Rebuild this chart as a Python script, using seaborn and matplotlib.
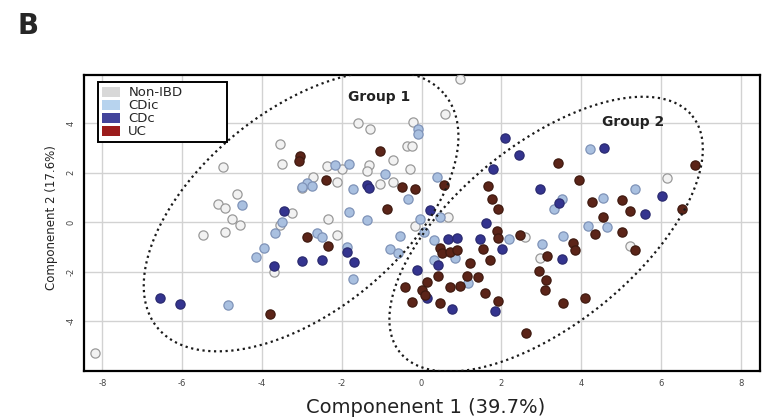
import numpy as np
import pandas as pd
import matplotlib
matplotlib.use("Agg")
import matplotlib.pyplot as plt
from matplotlib.patches import Patch
import seaborn as sns

# ---------------- data ----------------
groups = ["Non-IBD", "CDic", "CDc", "UC"]

nonibd_x = [-3.55, -4.97, -3.50, -1.60, -1.29, -0.71, -2.38, -2.00, -1.33, -1.37,
            -2.71, -3.00, -2.13, -1.04, -0.71, -4.63, -5.09, -4.92, -4.76, -4.55,
            -5.47, -4.92, -3.25, -2.34, -2.13, -3.71, -3.55, -8.18, 0.96, 0.59,
            -0.21, -0.37, -0.25, -0.29, 0.67, -0.16, 6.15, 5.23, 2.97, 2.59]
nonibd_y = [3.15, 2.23, 2.33, 3.99, 3.75, 2.51, 2.26, 2.13, 2.30, 2.06,
            1.81, 1.36, 1.63, 1.54, 1.63, 1.12, 0.72, 0.55, 0.11, -0.12,
            -0.51, -0.42, 0.38, 0.11, -0.51, -2.01, -0.12, -5.28, 5.78, 4.36,
            4.05, 3.07, 3.07, 2.14, 0.21, -0.16, 1.77, -0.97, -1.47, -0.59]

cdic_x = [-2.17, -1.83, -2.86, -2.75, -4.51, -1.71, -0.91, -1.83, -1.37, -3.50,
          -3.67, -2.63, -2.50, -4.15, -3.96, -4.84, -1.71, -1.87, -0.79, -0.58,
          -3.00, -0.08, -0.08, 0.38, -0.33, 0.46, -0.04, 0.05, -0.54, 0.30,
          0.30, 0.84, 1.17, 2.18, 3.01, 3.55, 4.22, 5.35, 4.54, 3.51,
          3.32, 4.18, 4.64]
cdic_y = [2.30, 2.33, 1.56, 1.45, 0.70, 1.33, 1.94, 0.42, 0.08, -0.01,
          -0.46, -0.46, -0.59, -1.43, -1.06, -3.35, -2.32, -1.00, -1.10, -1.24,
          1.40, 3.75, 3.54, 1.83, 0.92, 0.21, 0.11, -0.39, -0.55, -0.73,
          -1.54, -1.47, -2.48, -0.70, -0.89, -0.57, 2.95, 1.33, 0.98, 0.93,
          0.53, -0.15, -0.19]

cdc_x = [-1.37, -1.31, -3.46, -3.71, -3.00, -2.50, -1.69, -1.87, -6.55, -6.05,
         0.21, 0.67, 0.88, 0.40, -0.12, 0.13, 0.76, 1.62, 1.47, 2.01,
         1.84, 2.09, 2.43, 1.80, 2.97, 3.45, 3.51, 4.57, 6.02, 5.60]
cdc_y = [1.49, 1.36, 0.44, -1.77, -1.56, -1.54, -1.63, -1.20, -3.06, -3.33,
         0.48, -0.70, -0.66, -1.74, -1.94, -3.08, -3.52, -0.05, -0.69, -1.09,
         -3.58, 3.38, 2.71, 2.13, 1.33, 0.78, -1.49, 2.98, 1.05, 0.32]

uc_x = [-3.05, -3.06, -1.04, -2.39, -0.87, -2.88, -2.34, -3.80, -0.50, -0.16,
        0.55, 1.67, 1.76, 1.92, 3.43, 3.95, 6.85, 4.27, 5.02, 5.23,
        6.52, 4.54, 5.02, 4.35, 1.88, 1.92, 2.47, 3.80, 3.85, 5.35,
        0.46, 0.51, 0.71, 0.88, 1.55, 3.14, 1.22, 1.72, 2.95, 3.12,
        3.10, 0.42, 0.13, 1.13, 1.42, 0.71, 0.95, -0.41, 0.01, 0.09,
        1.59, 0.46, -0.25, 1.92, 3.55, 4.10, 2.62]
uc_y = [2.67, 2.48, 2.88, 1.70, 0.53, -0.59, -0.97, -3.72, 1.40, 1.33,
        1.49, 1.45, 0.92, 0.51, 2.37, 1.70, 2.30, 0.82, 0.89, 0.46,
        0.51, 0.21, -0.39, -0.50, -0.35, -0.66, -0.53, -0.86, -1.13, -1.13,
        -1.06, -1.24, -1.20, -1.13, -1.09, -1.36, -1.64, -1.54, -1.97, -2.34,
        -2.75, -2.18, -2.41, -2.18, -2.23, -2.64, -2.59, -2.61, -2.75, -2.95,
        -2.86, -3.26, -3.22, -3.18, -3.28, -3.08, -4.47]

x_ticks = [-8, -6, -4, -2, 0, 2, 4, 6, 8]
y_ticks = [-4, -2, 0, 2, 4]

# group ellipses: centre and two conjugate semi-axis vectors (data units)
ell1_center, ell1_a, ell1_b = (-3.02, 0.44), (3.61, 4.69), (1.586, -3.18)
ell2_center, ell2_a, ell2_b = (3.12, -0.49), (3.662, 4.78), (1.419, -2.825)

# ---------------- styling ----------------
fill_colors = {"Non-IBD": "#f2f2f2", "CDic": "#a9c0e0", "CDc": "#34348f", "UC": "#5b2418"}
edge_colors = {"Non-IBD": "#9a9a9a", "CDic": "#7f93b8", "CDc": "#2a2a70", "UC": "#3f1a10"}
legend_colors = {"Non-IBD": "#d8d8d8", "CDic": "#b7d3ee", "CDc": "#43449b", "UC": "#9b1c1c"}

sns.set_theme(style="white")
plt.rcParams["font.family"] = ["DejaVu Sans"]

fig = plt.figure(figsize=(7.69, 4.18), dpi=100)
ax = fig.add_axes([84 / 769, 1 - 371 / 418, 676 / 769, 296 / 418])

frames = []
for g, xs, ys in zip(groups, [nonibd_x, cdic_x, cdc_x, uc_x], [nonibd_y, cdic_y, cdc_y, uc_y]):
    frames.append(pd.DataFrame({"x": xs, "y": ys, "group": g}))
df = pd.concat(frames, ignore_index=True)

for g in groups:
    sub = df[df["group"] == g]
    sns.scatterplot(data=sub, x="x", y="y", color=fill_colors[g], edgecolor=edge_colors[g],
                    linewidth=0.9, s=44, ax=ax, legend=False, zorder=3)

t = np.linspace(0, 2 * np.pi, 400)
for c, a, b in [(ell1_center, ell1_a, ell1_b), (ell2_center, ell2_a, ell2_b)]:
    ex = c[0] + a[0] * np.cos(t) + b[0] * np.sin(t)
    ey = c[1] + a[1] * np.cos(t) + b[1] * np.sin(t)
    ax.plot(ex, ey, color="#1a1a1a", lw=1.6, linestyle=(0, (1, 1.6)), zorder=4)

ax.text(-1.07, 5.05, "Group 1", fontsize=10, fontweight="bold", ha="center", va="center",
        color="#222222", zorder=5)
ax.text(5.3, 4.04, "Group 2", fontsize=10, fontweight="bold", ha="center", va="center",
        color="#222222", zorder=5)

ax.set_xlim(-8.46, 8.48)
ax.set_ylim(-6.02, 5.94)
ax.set_xticks(x_ticks)
ax.set_yticks(y_ticks)
ax.set_xticklabels([str(v) for v in x_ticks])
ax.set_yticklabels([str(v) for v in y_ticks])
ax.grid(True, color="#d2d2d2", lw=1.0, zorder=0)
ax.set_axisbelow(True)
for sp in ax.spines.values():
    sp.set_color("black")
    sp.set_linewidth(1.6)
ax.tick_params(axis="both", direction="out", length=4, width=0.8, color="#333333",
               labelsize=6, labelcolor="#444444", pad=2)
ax.tick_params(axis="y", labelrotation=90)
for lab in ax.get_yticklabels():
    lab.set_va("center")

ax.set_xlabel("Componenent 1 (39.7%)", fontsize=14, color="#222222")
ax.set_ylabel("Componenent 2 (17.6%)", fontsize=8.5, color="#222222")
ax.xaxis.set_label_coords(0.506, -0.09)
ax.yaxis.set_label_coords(-0.038, 0.52)

handles = [Patch(facecolor=legend_colors[g], edgecolor="none", label=g) for g in groups]
leg = ax.legend(handles=handles, loc="upper left", bbox_to_anchor=(0.0207, 0.78, 0.191, 0.195),
                mode="expand", fontsize=9.5, frameon=True, fancybox=False, framealpha=1,
                edgecolor="black", borderpad=0.3, labelspacing=0.0,
                handlelength=1.4, handleheight=0.75, handletextpad=0.6, borderaxespad=0)
leg.get_frame().set_linewidth(1.4)
leg.set_zorder(6)

fig.text(18 / 769, 1 - 12 / 418, "B", fontsize=20, fontweight="bold", ha="left", va="top")

fig.savefig("out.png", dpi=100)
